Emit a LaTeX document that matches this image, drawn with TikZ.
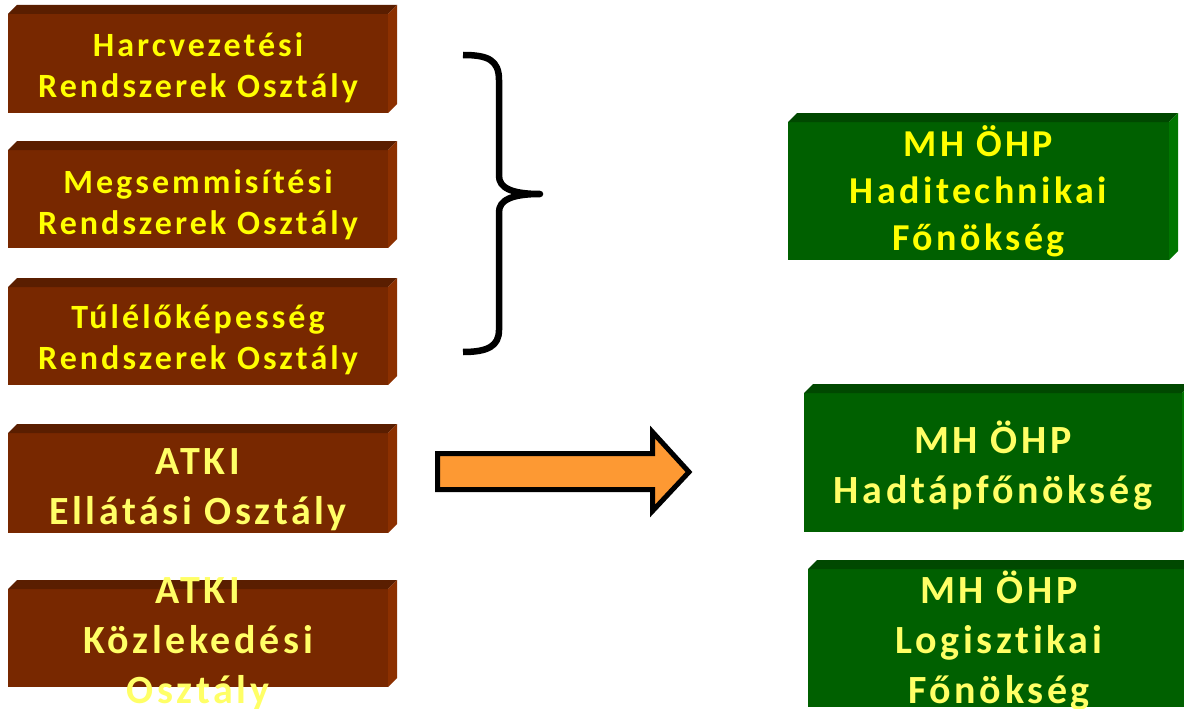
\documentclass[tikz,border=0pt]{standalone}
\usepackage{fontspec}
\newfontfamily\boxfont{Carlito}[LetterSpace=9, Ligatures=NoCommon]
\definecolor{brfront}{RGB}{120,40,0}
\definecolor{brtop}{RGB}{90,30,0}
\definecolor{brside}{RGB}{140,48,0}
\definecolor{grfront}{RGB}{0,96,0}
\definecolor{grtop}{RGB}{0,72,0}
\definecolor{grside}{RGB}{0,118,0}
\definecolor{ylw}{RGB}{255,255,0}
\definecolor{paleylw}{RGB}{255,255,102}
\definecolor{arroworange}{RGB}{253,153,51}
\newcommand{\bevelbox}[3]{%
  \fill[#2] (#1.north west) -- ++(9,-9) -- ([shift={(9,-9)}]#1.north east) -- (#1.north east) -- cycle;
  \fill[#3] (#1.north east) -- ++(9,-9) -- ([shift={(9,-9)}]#1.south east) -- (#1.south east) -- cycle;}
\begin{document}
\begin{tikzpicture}[x=1pt,y=-1pt,
  boxbase/.style={inner sep=0pt, outer sep=0pt, anchor=north west},
  brownbox/.style={boxbase, fill=brfront},
  greenbox/.style={boxbase, fill=grfront},
  smalltxt/.style={align=center, inner sep=0pt, text=ylw, font=\boxfont\bfseries\fontsize{34}{41}\selectfont},
  bigtxt/.style={align=center, inner sep=0pt, font=\boxfont\bfseries\fontsize{40}{50}\selectfont},
  bracestyle/.style={line width=6.5pt, line cap=butt, line join=round},
  bigarrow/.style={fill=arroworange, draw=black, line width=5pt, line join=miter}]
\useasboundingbox (0,0) rectangle (1184,709);
\fill[white] (0,0) rectangle (1184,709);
% left boxes
\node[brownbox, minimum width=380pt, minimum height=99pt] (b1) at (8,14) {};
\node[brownbox, minimum width=380pt, minimum height=98pt] (b2) at (8,150) {};
\node[brownbox, minimum width=380pt, minimum height=98pt] (b3) at (8,287) {};
\node[brownbox, minimum width=380pt, minimum height=100pt] (b4) at (8,433) {};
\node[brownbox, minimum width=380pt, minimum height=98pt] (b5) at (8,589) {};
\foreach \n in {b1,b2,b3,b4,b5} {\bevelbox{\n}{brtop}{brside}}
% right boxes
\node[greenbox, minimum width=381pt, minimum height=138pt] (r1) at (788,122) {};
\node[greenbox, minimum width=378pt, minimum height=139pt] (r2) at (804,393) {};
\node[greenbox, minimum width=382pt, minimum height=138pt] (r3) at (808,569) {};
\foreach \n in {r1,r2,r3} {\bevelbox{\n}{grtop}{grside}}
% texts
\node[smalltxt] (t1) at ([yshift=-4]b1.center) {Harcvezetési\\Rendszerek Osztály};
\node[smalltxt] (t2) at ([yshift=-6]b2.center) {Megsemmisítési\\Rendszerek Osztály};
\node[smalltxt] (t3) at ([yshift=-4]b3.center) {Túlélőképesség\\Rendszerek Osztály};
\node[bigtxt, text=paleylw] (t4) at ([yshift=-7]b4.center) {ATKI\\Ellátási Osztály};
\node[bigtxt, text=paleylw] (t5) at ([yshift=-6]b5.center) {ATKI\\Közlekedési\\Osztály};
\node[bigtxt, text=ylw, font=\boxfont\bfseries\fontsize{38}{47}\selectfont] (t6) at (r1.center) {MH ÖHP\\Haditechnikai\\Főnökség};
\node[bigtxt, text=paleylw] (t7) at ([yshift=-3]r2.center) {MH ÖHP\\Hadtápfőnökség};
\node[bigtxt, text=paleylw] (t8) at ([yshift=-3]r3.center) {MH ÖHP\\Logisztikai\\Főnökség};
% brace
\coordinate (bt) at (463,55);
\coordinate (btip) at (540,194);
\coordinate (bb) at (463,352);
\draw[bracestyle] (bt) .. controls (488,55) and (499,60) .. (499,80)
  -- (499,176) .. controls (499,188) and (512,194) .. (btip)
  .. controls (512,194) and (499,200) .. (499,212)
  -- (499,330) .. controls (499,346) and (488,352) .. (bb);
% arrow
\draw[bigarrow] (437.5,453.5) -- (652.5,453.5) -- (652.5,432) -- (689,472)
  -- (652.5,511) -- (652.5,489.5) -- (437.5,489.5) -- cycle;
\end{tikzpicture}
\end{document}
